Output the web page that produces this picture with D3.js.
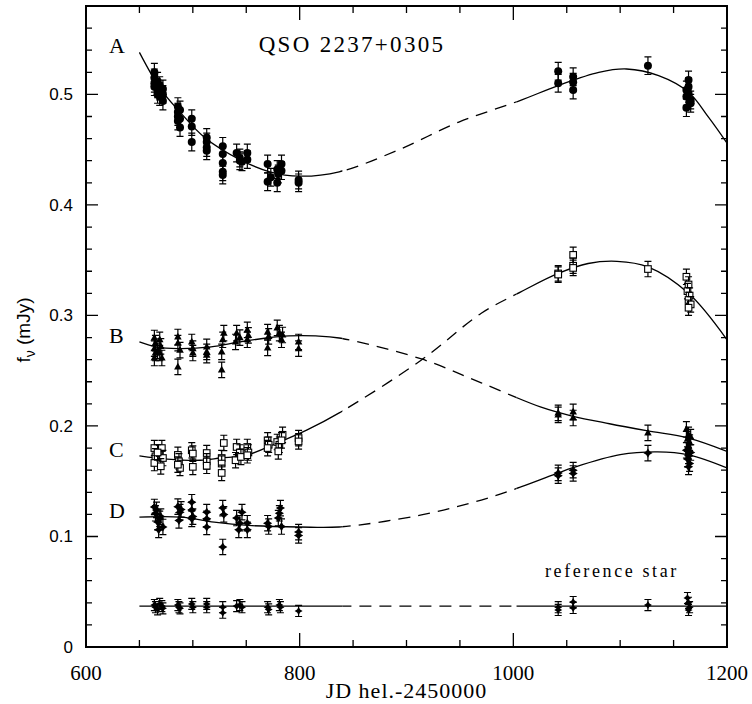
<!DOCTYPE html>
<html>
<head>
<meta charset="utf-8">
<script src="https://cdn.jsdelivr.net/npm/d3@7"></script>
<style>
  body { margin: 0; background: #fff; }
  svg text { fill: #000; }
</style>
</head>
<body>
<div id="chart"></div>
<script>
// photometry of the four images and the reference star: [JD - 2450000, flux mJy]
const pointsA = [
  [664,0.520],[664,0.515],[664,0.510],[664,0.507],[667,0.512],[667,0.505],[667,0.500],
  [669,0.508],[669,0.503],[669,0.498],[672,0.505],[672,0.500],[672,0.494],
  [686,0.489],[686,0.484],[686,0.480],[686,0.476],[688,0.486],[688,0.478],[688,0.470],
  [699,0.478],[699,0.471],[699,0.457],[713,0.461],[713,0.457],[713,0.452],[713,0.449],
  [728,0.453],[728,0.446],[728,0.438],[728,0.430],[728,0.427],
  [741,0.447],[744,0.4425],[744,0.440],[746,0.439],[751,0.447],[751,0.441],
  [770,0.437],[770,0.421],[773,0.425],[779,0.432],[779,0.420],[780,0.428],[783,0.437],[783,0.431],
  [799,0.4226],[799,0.420],
  [1042,0.521],[1042,0.510],[1056,0.516],[1056,0.511],[1056,0.504],[1126,0.526],
  [1162,0.504],[1162,0.498],[1162,0.488],[1164,0.513],[1164,0.507],[1164,0.501],[1166,0.495],[1166,0.492]
];
const pointsB = [
  [664,0.2796],[665,0.275],[664,0.270],[665,0.266],[664,0.2615],[669,0.278],[670,0.272],[669,0.266],
  [671,0.2615],[667,0.268],
  [686,0.2805],[686,0.275],[688,0.2687],[686,0.2534],
  [699,0.276],[700,0.270],[700,0.266],
  [713,0.2715],[713,0.267],[713,0.264],
  [729,0.284],[728,0.278],[727,0.267],[727,0.2507],
  [741,0.284],[744,0.280],[740,0.276],
  [751,0.2869],[752,0.282],[751,0.278],
  [770,0.285],[771,0.281],[770,0.2706],
  [779,0.2887],[781,0.284],[784,0.2823],[783,0.278],
  [799,0.276],[799,0.270],
  [1042,0.2118],[1042,0.210],[1056,0.2127],[1056,0.2072],[1126,0.1937],
  [1162,0.197],[1164,0.192],[1163,0.188],[1165,0.185],[1164,0.182],[1166,0.190]
];
const pointsC = [
  [664,0.180],[665,0.1725],[664,0.1665],[669,0.1755],[671,0.180],[672,0.171],[670,0.1635],[667,0.176],
  [686,0.1738],[687,0.168],[688,0.162],[686,0.165],
  [699,0.178],[700,0.175],[700,0.163],
  [713,0.1755],[713,0.168],[713,0.164],
  [729,0.1846],[727,0.171],[727,0.166],[727,0.1575],
  [741,0.181],[744,0.176],[740,0.169],[745,0.172],
  [751,0.181],[752,0.176],[751,0.1735],
  [770,0.187],[771,0.183],[770,0.180],
  [779,0.1855],[781,0.183],[784,0.192],[783,0.187],[780,0.177],
  [799,0.189],[799,0.186],
  [1042,0.338],[1042,0.337],[1056,0.3548],[1056,0.345],[1056,0.343],[1126,0.342],
  [1162,0.335],[1164,0.328],[1163,0.322],[1165,0.318],[1164,0.314],[1166,0.310],[1164,0.307]
];
const pointsD = [
  [664,0.1267],[665,0.121],[667,0.113],[668,0.106],[672,0.1086],[670,0.118],[666,0.124],[669,0.116],
  [686,0.127],[688,0.122],[687,0.1145],[689,0.1245],
  [699,0.131],[699,0.124],[700,0.118],[699,0.116],
  [713,0.122],[713,0.116],[713,0.1086],
  [728,0.1257],[729,0.120],[728,0.0905],
  [741,0.1167],[744,0.112],[743,0.106],[746,0.122],
  [751,0.112],[751,0.106],
  [770,0.112],[771,0.109],
  [781,0.121],[782,0.1257],[780,0.1167],[783,0.109],
  [799,0.104],[799,0.101],
  [1042,0.1575],[1042,0.155],[1056,0.160],[1056,0.157],[1126,0.1755],
  [1162,0.178],[1164,0.173],[1163,0.170],[1165,0.166],[1164,0.163],[1166,0.176]
];
const pointsRef = [
  [664,0.038],[665,0.036],[667,0.034],[669,0.039],[671,0.037],[672,0.035],
  [686,0.038],[688,0.035],[687,0.036],
  [699,0.039],[700,0.036],
  [713,0.039],[713,0.036],
  [728,0.036],[728,0.031],
  [741,0.037],[744,0.038],[746,0.036],
  [770,0.036],[771,0.034],
  [781,0.038],[782,0.036],
  [799,0.0326],
  [1042,0.0335],[1042,0.036],[1056,0.0407],[1056,0.0353],[1126,0.038],
  [1163,0.0443],[1164,0.040],[1165,0.036],[1164,0.0335]
];

// flux errors per series (mJy)
const errA = 0.008, errB = 0.007, errC = 0.007, errD = 0.007, errRef = 0.005;

// fitted light curves (knots)
const fitA = [[650,0.538],[669,0.506],[688,0.484],[711,0.461],[744,0.441],[772,0.430],[800,0.426],
  [837,0.430],[893,0.450],[949,0.475],[1005,0.494],[1042,0.508],[1080,0.520],[1106,0.523],
  [1136,0.517],[1164,0.502],[1183,0.479],[1200,0.456]];
const fitB = [[650,0.276],[666,0.2715],[686,0.270],[717,0.2715],[744,0.276],[769,0.2796],[790,0.2815],
  [815,0.2815],[837,0.2796],[914,0.2606],[970,0.239],[1026,0.217],[1055,0.209],[1090,0.202],
  [1126,0.1955],[1164,0.189],[1200,0.177]];
const fitC = [[650,0.1729],[676,0.170],[707,0.169],[726,0.171],[751,0.1738],[779,0.1846],[807,0.1964],
  [837,0.2118],[914,0.2597],[970,0.302],[1007,0.3213],[1042,0.338],[1070,0.347],[1097,0.349],
  [1126,0.344],[1164,0.320],[1200,0.278]];
const fitD = [[650,0.1176],[689,0.1176],[720,0.113],[752,0.110],[800,0.1086],[837,0.1086],[914,0.1195],
  [970,0.133],[1007,0.1448],[1042,0.1575],[1055,0.162],[1100,0.174],[1135,0.1765],[1164,0.1738],
  [1200,0.162]];
const fitRef = [[650,0.037],[1200,0.037]];

// no observations between these dates -> fit drawn dashed
const gapJD = [840, 1003];

const xMajor = [600, 800, 1000, 1200];
const yMajor = [0, 0.1, 0.2, 0.3, 0.4, 0.5];

const W = 752, H = 704;
const mLeft = 86, mRight = 727, mTop = 6, mBottom = 647;

const svg = d3.select("#chart").append("svg")
  .attr("width", W).attr("height", H);

const x = d3.scaleLinear().domain([600, 1200]).range([mLeft, mRight]);
const y = d3.scaleLinear().domain([0, 0.58]).range([mBottom, mTop]);

//clip paths for solid / dashed parts of the fits
const defs = svg.append("defs");
defs.append("clipPath").attr("id", "solidClip")
  .selectAll("rect")
  .data([[600, gapJD[0]], [gapJD[1], 1200]])
  .enter().append("rect")
  .attr("x", d => x(d[0])).attr("width", d => x(d[1]) - x(d[0]))
  .attr("y", mTop).attr("height", mBottom - mTop);
defs.append("clipPath").attr("id", "dashClip")
  .append("rect")
  .attr("x", x(gapJD[0])).attr("width", x(gapJD[1]) - x(gapJD[0]))
  .attr("y", mTop).attr("height", mBottom - mTop);

const line = d3.line()
  .x(d => x(d[0])).y(d => y(d[1]))
  .curve(d3.curveCatmullRom.alpha(0.5));

[fitA, fitB, fitC, fitD, fitRef].forEach(fit => {
  svg.append("path").datum(fit)
    .attr("d", line)
    .attr("fill", "none").attr("stroke", "#000").attr("stroke-width", 1.3)
    .attr("clip-path", "url(#solidClip)");
  svg.append("path").datum(fit)
    .attr("d", line)
    .attr("fill", "none").attr("stroke", "#000").attr("stroke-width", 1.3)
    .attr("stroke-dasharray", "12,8")
    .attr("clip-path", "url(#dashClip)");
});

// markers
const star4 = (r) => {
  const k = r * 0.38;
  return `M0,${-r}L${k},${-k}L${r},0L${k},${k}L0,${r}L${-k},${k}L${-r},0L${-k},${-k}Z`;
};
const tri = "M0,-4.2L3.8,2.6L-3.8,2.6Z";

const series = [
  { pts: pointsA, err: errA, shape: "circle" },
  { pts: pointsB, err: errB, shape: "tri" },
  { pts: pointsC, err: errC, shape: "square" },
  { pts: pointsD, err: errD, shape: "star" },
  { pts: pointsRef, err: errRef, shape: "small" }
];

series.forEach(s => {
  const g = svg.append("g");
  const pt = g.selectAll("g").data(s.pts).enter().append("g")
    .attr("transform", d => `translate(${x(d[0])},${y(d[1])})`);
  const eh = y(0) - y(s.err);
  pt.append("path")
    .attr("d", `M0,${-eh}V${eh}M-3.5,${-eh}H3.5M-3.5,${eh}H3.5`)
    .attr("stroke", "#000").attr("stroke-width", 1.2).attr("fill", "none");
  if (s.shape === "circle") {
    pt.append("circle").attr("r", 4).attr("fill", "#000");
  } else if (s.shape === "tri") {
    pt.append("path").attr("d", tri).attr("fill", "#000");
  } else if (s.shape === "square") {
    pt.append("rect").attr("x", -3.3).attr("y", -3.3).attr("width", 6.6).attr("height", 6.6)
      .attr("fill", "#fff").attr("stroke", "#000").attr("stroke-width", 1.1);
  } else if (s.shape === "star") {
    pt.append("path").attr("d", star4(4.6)).attr("fill", "#000");
  } else {
    pt.append("path").attr("d", star4(4)).attr("fill", "#000");
  }
});

// frame with ticks on all four sides
const frame = svg.append("g").attr("stroke", "#000");
frame.append("rect")
  .attr("x", mLeft).attr("y", mTop)
  .attr("width", mRight - mLeft).attr("height", mBottom - mTop)
  .attr("fill", "none").attr("stroke-width", 2);

const xMinor = d3.range(650, 1200, 50).filter(v => !xMajor.includes(v));
const yMinor = d3.range(0.02, 0.58, 0.02).map(v => +v.toFixed(2)).filter(v => !yMajor.some(m => Math.abs(m - v) < 1e-6));

function xTicks(vals, len) {
  frame.selectAll(null).data(vals).enter().append("path")
    .attr("d", d => `M${x(d)},${mBottom}v${-len}M${x(d)},${mTop}v${len}`)
    .attr("stroke-width", 1.3);
}
function yTicks(vals, len) {
  frame.selectAll(null).data(vals).enter().append("path")
    .attr("d", d => `M${mLeft},${y(d)}h${len}M${mRight},${y(d)}h${-len}`)
    .attr("stroke-width", 1.3);
}
xTicks(xMajor, 14); xTicks(xMinor, 7);
yTicks(yMajor, 12); yTicks(yMinor, 6);

// tick labels
svg.selectAll(".xlab").data(xMajor).enter().append("text")
  .attr("x", d => x(d)).attr("y", 680)
  .attr("text-anchor", "middle")
  .attr("font-family", "Liberation Serif, serif").attr("font-size", 21)
  .text(d => d);
svg.selectAll(".ylab").data(yMajor).enter().append("text")
  .attr("x", 73).attr("y", d => y(d) + 6)
  .attr("text-anchor", "end")
  .attr("font-family", "Liberation Sans, Arial, sans-serif").attr("font-size", 17)
  .text(d => d === 0 ? "0" : d3.format(".1f")(d));

// axis titles
svg.append("text")
  .attr("x", (mLeft + mRight) / 2).attr("y", 698)
  .attr("text-anchor", "middle")
  .attr("font-family", "Liberation Serif, serif").attr("font-size", 22)
  .attr("letter-spacing", 1)
  .text("JD hel.-2450000");
const yt = svg.append("text")
  .attr("transform", "translate(30,330) rotate(-90)")
  .attr("text-anchor", "middle")
  .attr("font-family", "Liberation Sans, Arial, sans-serif").attr("font-size", 19);
yt.append("tspan").text("f");
yt.append("tspan").attr("dy", 5).attr("font-size", 14).text("ν");
yt.append("tspan").attr("dy", -5).text(" (mJy)");

// annotations
svg.append("text")
  .attr("x", 352).attr("y", 52)
  .attr("text-anchor", "middle")
  .attr("font-family", "Liberation Serif, serif").attr("font-size", 23)
  .attr("letter-spacing", 2.3)
  .text("QSO 2237+0305");
const compLabels = [["A", 53], ["B", 343], ["C", 457], ["D", 518]];
svg.selectAll(".comp").data(compLabels).enter().append("text")
  .attr("x", 109).attr("y", d => d[1])
  .attr("font-family", "Liberation Serif, serif").attr("font-size", 22)
  .text(d => d[0]);
svg.append("text")
  .attr("x", 545).attr("y", 577)
  .attr("font-family", "Liberation Serif, serif").attr("font-size", 18)
  .attr("letter-spacing", 2.6)
  .text("reference star");
</script>
</body>
</html>
